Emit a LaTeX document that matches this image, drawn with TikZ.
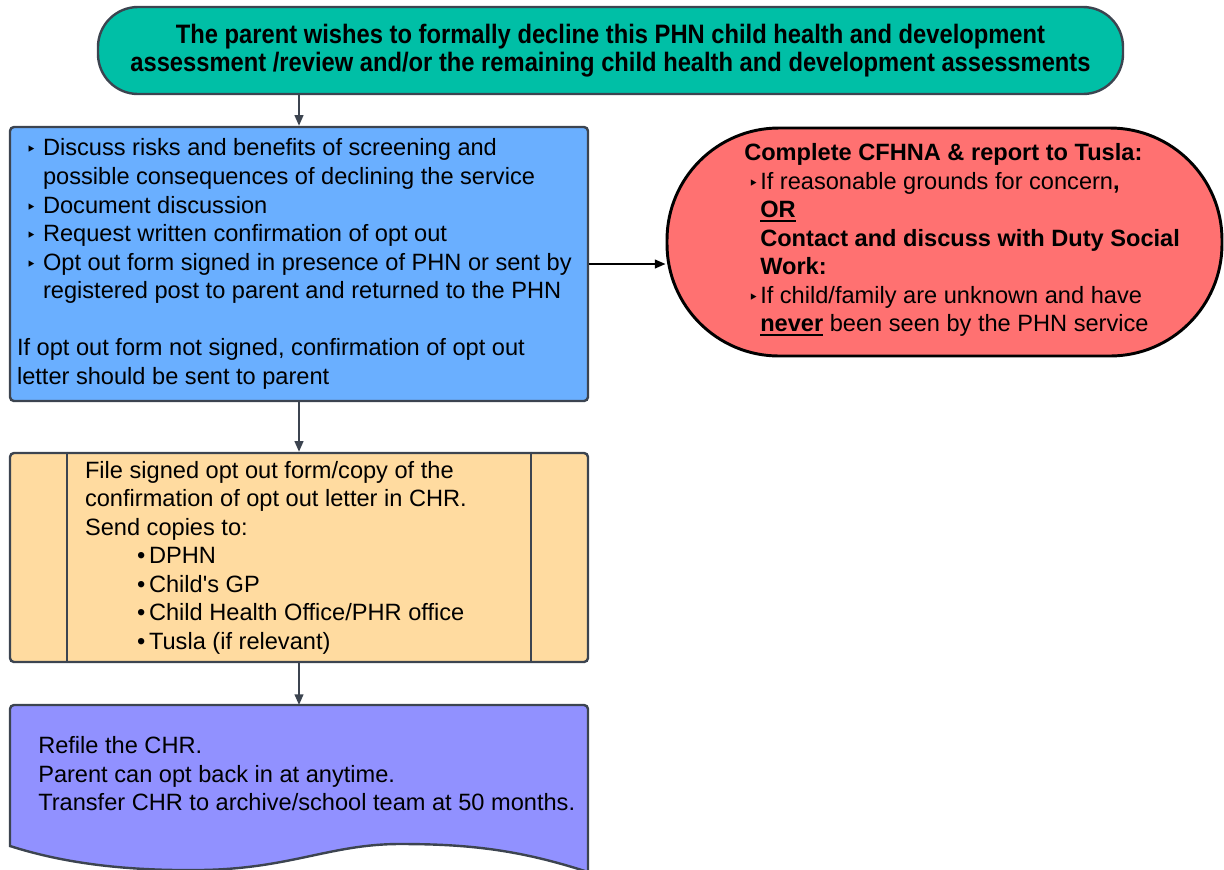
\documentclass[tikz,border=0pt]{standalone}
\usepackage{fontspec}
\setmainfont{Liberation Sans}[Ligatures=TeXOff]
\newfontfamily\narrowfont{Liberation Sans}[FakeStretch=0.89]
\newfontfamily\symfont{DejaVu Sans}
\usetikzlibrary{positioning, arrows.meta}
\definecolor{tealfill}{HTML}{00BFA6}
\definecolor{bluefill}{HTML}{6AAFFF}
\definecolor{redfill}{HTML}{FF7171}
\definecolor{orangefill}{HTML}{FFDBA0}
\definecolor{purplefill}{HTML}{9191FF}
\definecolor{edgegray}{HTML}{3C4450}
\newcommand{\tri}{{\symfont\fontsize{13}{13}\selectfont ‣}}
\newcommand{\thickul}[1]{\setbox0\hbox{#1}\rlap{\rule[-3.4pt]{\wd0}{1.7pt}}\box0\relax}
\tikzset{
  basebox/.style={draw=edgegray, line width=1.8pt, inner sep=0pt},
  stepbox/.style={basebox, rounded corners=3pt, minimum width=433.5pt},
  bodytext/.style={align=left, inner sep=0pt, font=\fontsize{17.7}{21.4}\selectfont},
  flowarrow/.style={draw=edgegray, line width=1.5pt, -{Triangle[width=6.5pt,length=8pt]}},
}
\begin{document}
\begin{tikzpicture}[x=0.75pt, y=-0.75pt]
\useasboundingbox (0,0) rectangle (1224,869);
% start
\node[basebox, fill=tealfill, rounded corners=30pt, minimum width=768.75pt, minimum height=65.25pt,
  align=center, font=\narrowfont\bfseries\fontsize{20}{21}\selectfont] (parent) at (610.5,50.5)
  {The parent wishes to formally decline this PHN child health and development\\
   assessment /review and/or the remaining child health and development assessments};
% discussion
\node[stepbox, fill=bluefill, minimum height=205.5pt] (discuss) at (299,264) {};
\node[bodytext, anchor=west] (discusstext) at ([xshift=6pt]discuss.west)
  {\makebox[19.5pt][l]{\hspace*{6.75pt}\tri}Discuss risks and benefits of screening and\\
   \hspace*{19.5pt}possible consequences of declining the service\\
   \makebox[19.5pt][l]{\hspace*{6.75pt}\tri}Document discussion\\
   \makebox[19.5pt][l]{\hspace*{6.75pt}\tri}Request written confirmation of opt out\\
   \makebox[19.5pt][l]{\hspace*{6.75pt}\tri}Opt out form signed in presence of PHN or sent by\\
   \hspace*{19.5pt}registered post to parent and returned to the PHN\\[21.4pt]
   If opt out form not signed, confirmation of opt out\\
   letter should be sent to parent};
% referral
\node[basebox, draw=black, line width=2.2pt, fill=redfill, rounded corners=84pt,
  minimum width=416.25pt, minimum height=171pt] (tusla) at (944.5,242) {};
\node[bodytext, anchor=west] (tuslatext) at (744,240)
  {\textbf{Complete CFHNA \& report to Tusla:}\\
   \makebox[12pt][l]{\hspace*{3pt}\tri}If reasonable grounds for concern\textbf{,}\\
   \hspace*{12pt}\thickul{\textbf{OR}}\\
   \hspace*{12pt}\textbf{Contact and discuss with Duty Social}\\
   \hspace*{12pt}\textbf{Work:}\\
   \makebox[12pt][l]{\hspace*{3pt}\tri}If child/family are unknown and have\\
   \hspace*{12pt}\thickul{\textbf{never}} been seen by the PHN service};
% filing
\node[stepbox, fill=orangefill, minimum height=156.75pt] (filing) at (299,557.5) {};
\draw[edgegray, line width=1.8pt] ([xshift=43.5pt]filing.north west) -- ([xshift=43.5pt]filing.south west);
\draw[edgegray, line width=1.8pt] ([xshift=-43.5pt]filing.north east) -- ([xshift=-43.5pt]filing.south east);
\node[bodytext, anchor=west] (filingtext) at ([xshift=57pt]filing.west)
  {File signed opt out form/copy of the\\
   confirmation of opt out letter in CHR.\\
   Send copies to:\\
   \makebox[48pt][l]{\hspace*{39pt}•}DPHN\\
   \makebox[48pt][l]{\hspace*{39pt}•}Child's GP\\
   \makebox[48pt][l]{\hspace*{39pt}•}Child Health Office/PHR office\\
   \makebox[48pt][l]{\hspace*{39pt}•}Tusla (if relevant)};
% refile document
\draw[draw=edgegray, line width=1.8pt, fill=purplefill] (10,846) [rounded corners=3pt] -- (10,705) -- (588,705)
  [sharp corners] -- (588,872) .. controls (520,850) and (470,844) .. (400,844)
  .. controls (330,844) and (290,869) .. (200,870) .. controls (120,871) and (60,862) .. (10,846) -- cycle;
\coordinate (refile) at (299,705);
\node[bodytext, anchor=west] (refiletext) at (38,774)
  {Refile the CHR.\\
   Parent can opt back in at anytime.\\
   Transfer CHR to archive/school team at 50 months.};
% connectors
\draw[flowarrow] (parent.south -| discuss.north) -- (discuss.north);
\draw[flowarrow, draw=black] (discuss.east) -- (discuss.east -| tusla.west);
\draw[flowarrow] (discuss.south) -- (filing.north);
\draw[flowarrow] (filing.south) -- (refile);
\end{tikzpicture}
\end{document}
